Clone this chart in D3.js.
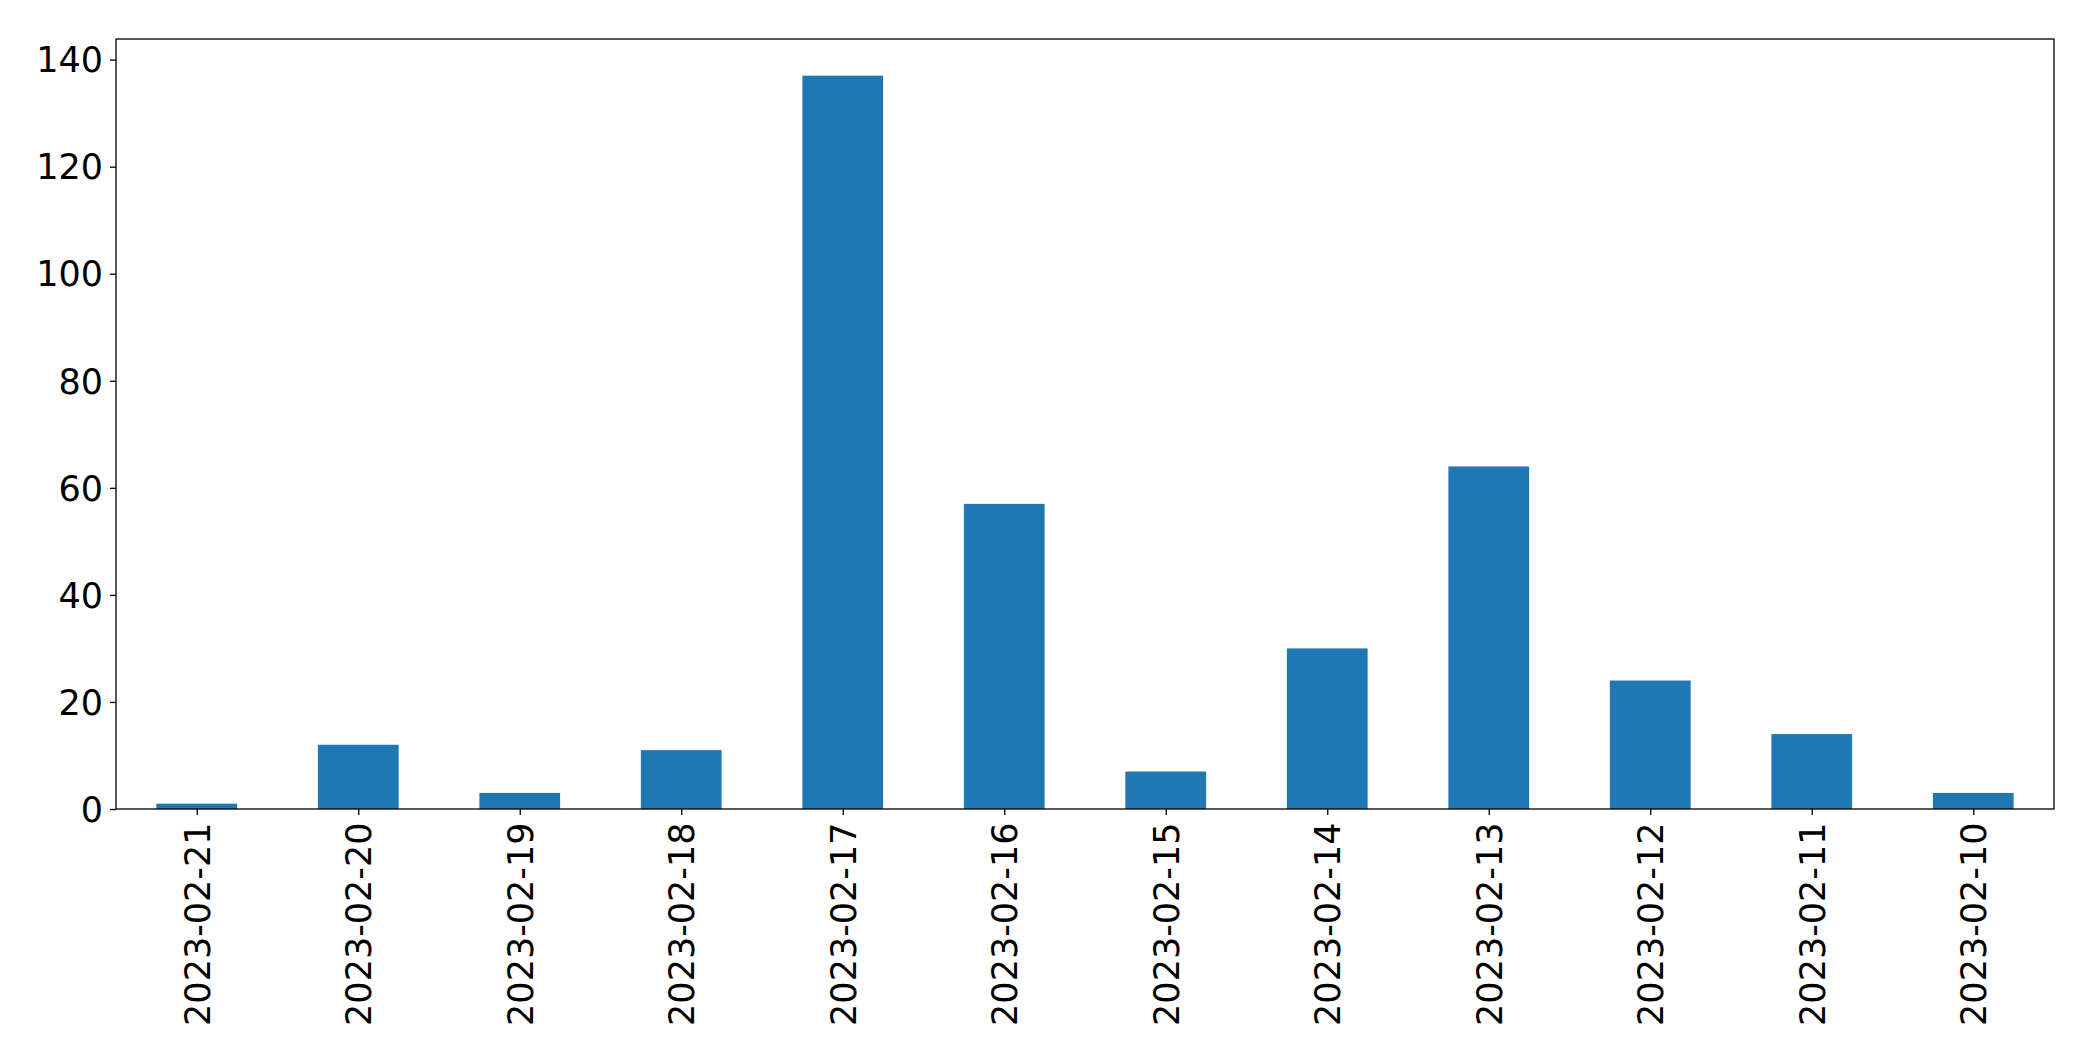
<!DOCTYPE html>
<html>
<head>
<meta charset="utf-8">
<script src="https://cdn.jsdelivr.net/npm/d3@7"></script>
<style>
  html, body { margin: 0; padding: 0; background: #fff; }
  svg { display: block; }
  text { font-family: "DejaVu Sans", sans-serif; fill: #000; }
</style>
</head>
<body>
<svg id="chart" width="2093" height="1061"></svg>
<script>
const categories = ["2023-02-21","2023-02-20","2023-02-19","2023-02-18","2023-02-17","2023-02-16","2023-02-15","2023-02-14","2023-02-13","2023-02-12","2023-02-11","2023-02-10"];
const values = [1, 12, 3, 11, 137, 57, 7, 30, 64, 24, 14, 3];
const yTicks = [0, 20, 40, 60, 80, 100, 120, 140];

const W = 2093, H = 1061;
const margin = {left: 116, right: 2093 - 2054, top: 39, bottom: 1061 - 809};
const svg = d3.select("#chart");

const x = d3.scaleLinear().domain([-0.5, categories.length - 0.5]).range([margin.left, W - margin.right]);
const y = d3.scaleLinear().domain([0, d3.max(values) * 1.05]).range([H - margin.bottom, margin.top]);
const barW = x(0.5) - x(0);

svg.append("g").selectAll("rect").data(values).join("rect")
  .attr("x", (d, i) => x(i) - barW / 2)
  .attr("y", d => y(d))
  .attr("width", barW)
  .attr("height", d => y(0) - y(d))
  .attr("fill", "#1f77b4");

const fs = 35;
const yAxis = svg.append("g").attr("transform", `translate(${margin.left},0)`)
  .call(d3.axisLeft(y).tickValues(yTicks).tickSize(6).tickPadding(7).tickFormat(d3.format("d")));
yAxis.select(".domain").remove();
yAxis.selectAll("line").attr("stroke", "#000").attr("stroke-width", 1.3);
yAxis.selectAll("text").style("font-size", fs + "px").attr("dy", "0.35em");

const xAxis = svg.append("g").attr("transform", `translate(0,${H - margin.bottom})`)
  .call(d3.axisBottom(x).tickValues(d3.range(categories.length)).tickSize(6).tickFormat(i => categories[i]));
xAxis.select(".domain").remove();
xAxis.selectAll("line").attr("stroke", "#000").attr("stroke-width", 1.3);
xAxis.selectAll("text")
  .style("font-size", fs + "px")
  .attr("text-anchor", "end")
  .attr("transform", "rotate(-90)")
  .attr("x", -13.5)
  .attr("y", 0)
  .attr("dy", "0.35em");

svg.append("rect")
  .attr("x", margin.left).attr("y", margin.top)
  .attr("width", W - margin.right - margin.left)
  .attr("height", H - margin.bottom - margin.top)
  .attr("fill", "none").attr("stroke", "#000").attr("stroke-width", 1.3);
</script>
</body>
</html>
